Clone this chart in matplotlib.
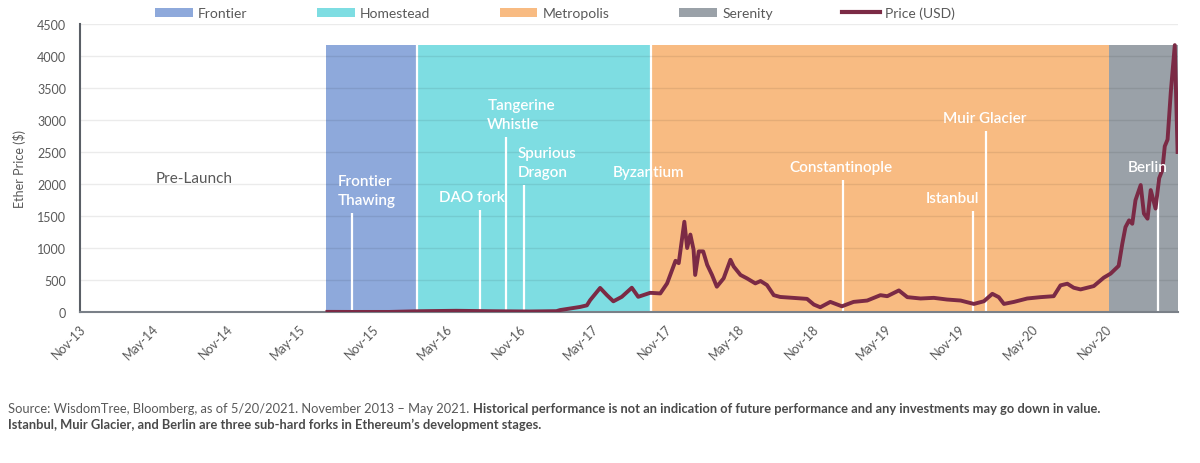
import numpy as np
import pandas as pd
import matplotlib
matplotlib.use("Agg")
import matplotlib.pyplot as plt
import matplotlib.dates as mdates
from matplotlib.patches import Patch
from matplotlib.lines import Line2D

plt.rcParams['font.family'] = ['Lato', 'DejaVu Sans']

# Ether price (USD)
price_dates = [
    "2015-07-30", "2015-09-30", "2015-12-31", "2016-03-14", "2016-06-15", "2016-09-15",
    "2016-12-15", "2017-02-20", "2017-03-01", "2017-04-20", "2017-05-07", "2017-05-15",
    "2017-06-09", "2017-06-26", "2017-07-12", "2017-08-02", "2017-08-27", "2017-09-12",
    "2017-10-12", "2017-11-06", "2017-11-23", "2017-12-14", "2017-12-22", "2018-01-05",
    "2018-01-12", "2018-01-20", "2018-01-28", "2018-02-01", "2018-02-10", "2018-02-21",
    "2018-03-03", "2018-03-15", "2018-03-27", "2018-04-13", "2018-04-30", "2018-05-08",
    "2018-05-25", "2018-06-10", "2018-07-01", "2018-07-14", "2018-07-30", "2018-08-16",
    "2018-09-01", "2018-10-05", "2018-11-07", "2018-11-24", "2018-12-10", "2019-01-04",
    "2019-02-02", "2019-03-03", "2019-04-06", "2019-05-09", "2019-05-26", "2019-06-24",
    "2019-07-15", "2019-08-17", "2019-09-19", "2019-10-22", "2019-11-25", "2019-12-28",
    "2020-01-22", "2020-02-12", "2020-02-28", "2020-03-12", "2020-04-06", "2020-05-09",
    "2020-06-11", "2020-07-14", "2020-07-31", "2020-08-17", "2020-09-02", "2020-09-19",
    "2020-10-22", "2020-11-16", "2020-12-03", "2020-12-23", "2021-01-01", "2021-01-09",
    "2021-01-18", "2021-01-26", "2021-02-03", "2021-02-16", "2021-02-24", "2021-03-05",
    "2021-03-13", "2021-03-25", "2021-04-03", "2021-04-11", "2021-04-17", "2021-04-24",
    "2021-05-02", "2021-05-12", "2021-05-19",
]
price_usd = [
    2, 1, 1, 12, 19, 12,
    8, 13, 30, 79, 104, 184,
    376, 263, 167, 237, 379, 237,
    300, 290, 447, 800, 763, 1410,
    1000, 1210, 974, 579, 947, 947,
    737, 579, 395, 526, 816, 711,
    579, 526, 447, 484, 421, 263,
    235, 220, 205, 116, 74, 158,
    89, 158, 179, 263, 247, 337,
    232, 211, 221, 195, 179, 126,
    168, 284, 232, 126, 158, 211,
    232, 247, 416, 442, 379, 353,
    405, 537, 600, 721, 1063, 1326,
    1432, 1379, 1747, 1984, 1537, 1458,
    1905, 1616, 2089, 2221, 2589, 2695,
    3432, 4170, 2500,
]

# development eras (shaded blocks)
era_names = ["Frontier", "Homestead", "Metropolis", "Serenity"]
era_starts = ["2015-07-27", "2016-03-09", "2017-10-14", "2020-11-29"]
era_ends = ["2016-03-09", "2017-10-14", "2020-11-29", "2021-05-20"]
era_top = 4170
era_colors = ["#8EA9DB", "#7EDDE2", "#F8BB82", "#9AA1A8"]

# hard forks
fork_names = ["Frontier\nThawing", "DAO fork", "Tangerine\nWhistle", "Spurious\nDragon",
              "Byzantium", "Constantinople", "Istanbul", "Muir Glacier", "Berlin"]
fork_dates = ["2015-09-30", "2016-08-14", "2016-10-18", "2016-12-02", "2017-10-14",
              "2019-02-04", "2019-12-25", "2020-01-26", "2021-03-31"]
fork_tops = [1540, 1590, 2730, 1985, 1985, 2060, 1585, 2830, 2060]
# label placement relative to the line top (pixels)
fork_dx = [-15, -8, -19, -7, -2, -2, -20, -1, -10]
fork_ha = ["left", "center", "left", "left", "center", "center", "center", "center", "center"]

x_start, x_end = "2013-11-20", "2021-05-20"
tick_dates = pd.date_range("2013-11-20", "2020-11-20", freq=pd.DateOffset(months=6))
yticks = np.arange(0, 4501, 500)

price_color = "#7B2A45"
grey = "#595959"

fig = plt.figure(figsize=(12, 4.64), dpi=100)
ax = fig.add_axes([80 / 1200, 1 - 313 / 464, 1098 / 1200, 288 / 464])

num = lambda d: mdates.date2num(pd.to_datetime(d))

# era blocks
starts = num(era_starts)
widths = num(era_ends) - starts
ax.bar(starts, [era_top] * len(starts), width=widths, align="edge",
       color=era_colors, linewidth=0, zorder=0.2)
# white separators between the first eras
ax.vlines(starts[1:3], 0, era_top, color="white", lw=1.6, zorder=0.3)

# fork lines and labels
for name, d, top, dx, ha in zip(fork_names, fork_dates, fork_tops, fork_dx, fork_ha):
    xd = num(d)
    ax.vlines(xd, 0, top, color="white", lw=1.6, zorder=2)
    ax.annotate(name, xy=(xd, top), xytext=(dx, 6), textcoords="offset pixels",
                ha=ha, va="bottom", color="white", fontsize=11, fontweight="semibold",
                linespacing=1.45, zorder=4)

ax.text(num("2014-08-31"), 2090, "Pre-Launch", ha="center", va="center",
        color=grey, fontsize=11)

# price line
ax.plot(num(price_dates), price_usd, color=price_color, lw=2.8, zorder=3,
        solid_joinstyle="round")

ax.set_xlim(num(x_start), num(x_end))
ax.set_ylim(0, 4500)
ax.set_yticks(yticks)
ax.set_xticks(num(tick_dates))
ax.xaxis.set_major_formatter(mdates.DateFormatter("%b-%y"))

ax.set_axisbelow(True)
ax.grid(axis="y", color="black", alpha=0.08, lw=1)
ax.grid(axis="x", visible=False)
for s in ["top", "right"]:
    ax.spines[s].set_visible(False)
ax.spines["left"].set_color("#5A5F66")
ax.spines["left"].set_linewidth(1.5)
ax.spines["bottom"].set_color("#7A8088")
ax.spines["bottom"].set_linewidth(1.5)

ax.tick_params(axis="y", length=0, pad=10, labelsize=9, labelcolor=grey)
ax.tick_params(axis="x", length=0, pad=7, labelsize=9, labelcolor=grey)
for lab in ax.get_xticklabels():
    lab.set_rotation(45)
    lab.set_ha("right")
    lab.set_rotation_mode("anchor")

ax.set_ylabel("Ether Price ($)", fontsize=9, color=grey, labelpad=8)

handles = [Patch(facecolor=c, label=n) for c, n in zip(era_colors, era_names)]
handles.append(Line2D([], [], color=price_color, lw=3, label="Price (USD)"))
fig.legend(handles=handles, loc="center left", bbox_to_anchor=(155 / 1200, 1 - 14 / 464),
           ncol=5, frameon=False, fontsize=10, handlelength=2.7, handleheight=0.7,
           handletextpad=0.4, columnspacing=5, borderaxespad=0, borderpad=0,
           labelcolor=grey)

# footnote
t1 = fig.text(8 / 1200, 1 - 415 / 464,
              "Source: WisdomTree, Bloomberg, as of 5/20/2021. November 2013 \u2013 May 2021.",
              fontsize=9.3, color=grey, va="bottom")
ax.annotate("Historical performance is not an indication of future performance and any "
            "investments may go down in value.",
            xy=(1, 0), xycoords=t1, xytext=(4, 0), textcoords="offset pixels",
            fontsize=9.3, color="#4A4A4A", fontweight="bold", va="bottom",
            annotation_clip=False)
fig.text(8 / 1200, 1 - 431 / 464,
         "Istanbul, Muir Glacier, and Berlin are three sub-hard forks in Ethereum\u2019s "
         "development stages.",
         fontsize=9.3, color="#4A4A4A", fontweight="bold", va="bottom")

fig.savefig("out.png", dpi=100)
